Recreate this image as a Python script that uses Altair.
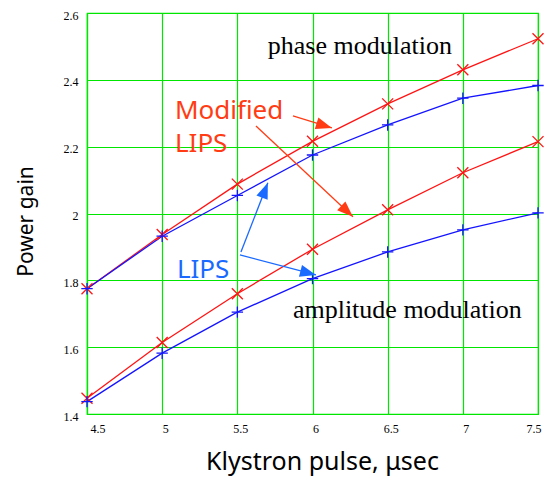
import math
import altair as alt
import pandas as pd

# ---- data ----
x_vals = [4.5, 5.0, 5.5, 6.0, 6.5, 7.0, 7.5]
phase_mod = [1.775, 1.937, 2.088, 2.216, 2.328, 2.430, 2.523]
phase_lips = [1.775, 1.932, 2.054, 2.175, 2.265, 2.345, 2.383]
amp_mod = [1.447, 1.614, 1.760, 1.893, 2.011, 2.122, 2.215]
amp_lips = [1.437, 1.582, 1.705, 1.805, 1.885, 1.951, 2.002]

y_ticks = [1.4, 1.6, 1.8, 2.0, 2.2, 2.4, 2.6]

series_names = ["phase Modified LIPS", "phase LIPS", "amplitude Modified LIPS", "amplitude LIPS"]
series_values = [phase_mod, phase_lips, amp_mod, amp_lips]
series_kind = ["mod", "lips", "mod", "lips"]

# annotations (data coordinates)
label_text = ["phase modulation", "amplitude modulation"]
label_x = [6.315, 6.631]
label_y = [2.477, 1.688]

callout_text = ["Modified", "LIPS", "LIPS"]
callout_x = [5.085, 5.085, 5.098]
callout_y = [2.283, 2.185, 1.808]
callout_color = ["#ff3c14", "#ff3c14", "#1a6aff"]

arrow_x = [5.870, 5.624, 5.524, 5.517]
arrow_y = [2.292, 2.262, 1.885, 1.876]
arrow_x2 = [6.129, 6.269, 5.703, 6.023]
arrow_y2 = [2.256, 1.990, 2.092, 1.816]
arrow_color = ["#ff3c14", "#ff3c14", "#1a6aff", "#1a6aff"]

RED = "#ff1414"
BLUE = "#1414ff"
GREEN = "#00e600"

W, H = 451, 401
X_DOM = [4.5, 7.5]
Y_DOM = [1.4, 2.6]

rows = []
for name, vals, kind in zip(series_names, series_values, series_kind):
    for xv, yv in zip(x_vals, vals):
        rows.append({"x": xv, "y": yv, "series": name, "kind": kind})
df = pd.DataFrame(rows)

df_lab = pd.DataFrame({"x": label_x, "y": label_y, "text": label_text})
df_call = pd.DataFrame({"x": callout_x, "y": callout_y, "text": callout_text, "color": callout_color})

angles = []
for x1, y1, x2, y2 in zip(arrow_x, arrow_y, arrow_x2, arrow_y2):
    dx = (x2 - x1) * W / (X_DOM[1] - X_DOM[0])
    dy = -(y2 - y1) * H / (Y_DOM[1] - Y_DOM[0])
    angles.append(math.degrees(math.atan2(dx, -dy)) % 360)
df_arr = pd.DataFrame({"x": arrow_x, "y": arrow_y, "x2": arrow_x2, "y2": arrow_y2,
                       "color": arrow_color, "angle": angles})

xs = alt.Scale(domain=X_DOM, nice=False, zero=False)
ys = alt.Scale(domain=Y_DOM, nice=False, zero=False)

x_enc = alt.X("x:Q", scale=xs, axis=alt.Axis(
    values=x_vals, format="~g", title="Klystron pulse, μsec", labelOffset=3, labelPadding=9,
    titleX=235, titleY=47, titleAlign="center", titleBaseline="middle"))
y_enc = alt.Y("y:Q", scale=ys, axis=alt.Axis(
    values=y_ticks, format="~g", title="Power gain", labelOffset=2, labelPadding=9,
    titleFontSize=21,
    titleX=-61, titleY=208, titleAngle=270, titleAlign="center", titleBaseline="middle"))

color_enc = alt.Color("series:N", scale=alt.Scale(domain=series_names, range=[RED, BLUE, RED, BLUE]), legend=None)

lines = alt.Chart(df).mark_line(strokeWidth=1.3).encode(x=x_enc, y=y_enc, color=color_enc, detail="series:N")

pts_mod = alt.Chart(df).transform_filter(alt.datum.kind == "mod").mark_point(
    shape="M-1,-1L1,1M-1,1L1,-1", size=121, strokeWidth=1.3, filled=False, opacity=1
).encode(x="x:Q", y="y:Q", color=alt.value(RED))

pts_lips = alt.Chart(df).transform_filter(alt.datum.kind == "lips").mark_point(
    shape="M-1,0L1,0M0,-1L0,1", size=130, strokeWidth=1.3, filled=False, opacity=1
).encode(x="x:Q", y="y:Q", color=alt.value(BLUE))

labels = alt.Chart(df_lab).mark_text(
    font="Liberation Serif", fontSize=26, align="center", baseline="alphabetic", color="black"
).encode(x="x:Q", y="y:Q", text="text:N")

callouts = alt.Chart(df_call).mark_text(
    font="Noto Sans", fontSize=26, align="left", baseline="alphabetic"
).encode(x="x:Q", y="y:Q", text="text:N", color=alt.Color("color:N", scale=None))

shafts = alt.Chart(df_arr).mark_rule(strokeWidth=1.3).encode(
    x="x:Q", y="y:Q", x2="x2:Q", y2="y2:Q", color=alt.Color("color:N", scale=None))

heads = alt.Chart(df_arr).mark_point(
    shape="M0,0L-0.75,2L0.75,2Z", size=256, filled=True, opacity=1, strokeWidth=0
).encode(x="x2:Q", y="y2:Q", angle=alt.Angle("angle:Q", scale=None),
         color=alt.Color("color:N", scale=None))

chart = alt.layer(lines, pts_mod, pts_lips, labels, callouts, shafts, heads).properties(
    width=W, height=H,
    autosize=alt.AutoSizeParams(type="none"),
    padding={"left": 79, "top": 5, "right": 6, "bottom": 62},
).configure_axis(
    grid=True, gridColor=GREEN, gridWidth=1.2, gridOpacity=1,
    domainColor=GREEN, domainWidth=1.2, ticks=False,
    labelFont="Liberation Serif", labelFontSize=12, labelColor="black",
    titleFont="Noto Sans", titleFontSize=25, titleFontWeight="normal", titleColor="black",
).configure_view(
    stroke=GREEN, strokeWidth=1.2
)

chart.save("out.html", embed_options={"renderer": "svg", "actions": False})
